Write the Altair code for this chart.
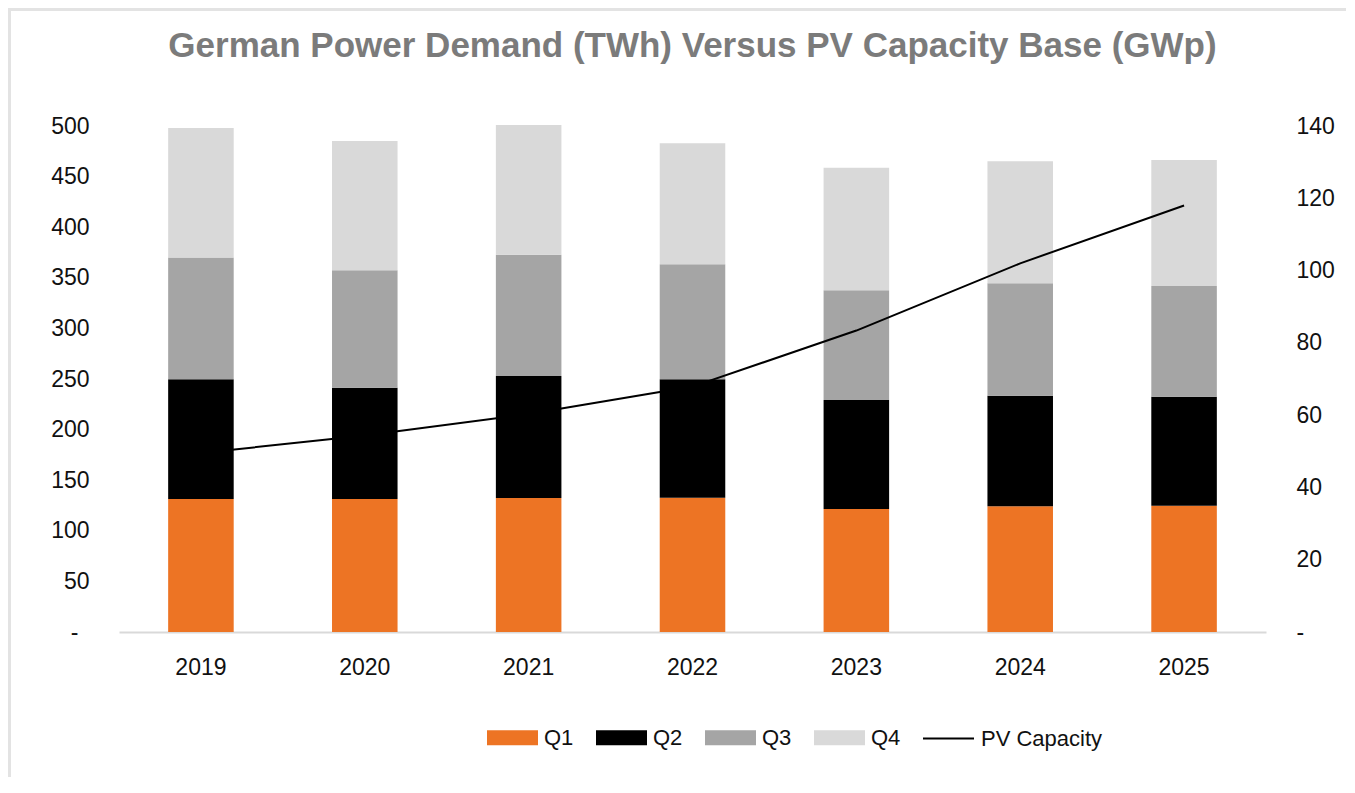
import altair as alt
import pandas as pd

years = ["2019", "2020", "2021", "2022", "2023", "2024", "2025"]
quarters = ["Q1", "Q2", "Q3", "Q4"]
q1 = [131.4, 131.4, 132.4, 132.7, 121.5, 124.2, 124.8]
q2 = [118.3, 110.0, 120.6, 117.1, 107.7, 109.3, 107.7]
q3 = [120.3, 116.0, 119.8, 113.5, 108.4, 111.1, 109.4]
q4 = [128.0, 127.8, 128.2, 119.6, 121.2, 120.5, 124.5]
pv_capacity = [49.5, 54.4, 60.3, 67.9, 83.4, 102.0, 118.0]
left_ticks = [0, 50, 100, 150, 200, 250, 300, 350, 400, 450, 500]
right_ticks = [0, 20, 40, 60, 80, 100, 120, 140]

quarter_colors = ["#ED7424", "#000000", "#A5A5A5", "#D9D9D9"]

rows = []
for qi, (qname, vals) in enumerate(zip(quarters, [q1, q2, q3, q4])):
    for y, v in zip(years, vals):
        rows.append({"year": y, "quarter": qname, "qidx": qi, "value": v})
df_bars = pd.DataFrame(rows)
df_line = pd.DataFrame({"year": years, "pv": pv_capacity, "series": ["PV Capacity"] * len(years)})

FONT = "Liberation Sans"
LABEL_COLOR = "#111111"

x_axis = alt.Axis(
    title=None, labelAngle=0, ticks=False, labelPadding=24,
    labelFontSize=23, labelFont=FONT, labelColor=LABEL_COLOR,
    domain=True, domainColor="#D9D9D9", domainWidth=2, grid=False,
)

bars = alt.Chart(df_bars).mark_bar().encode(
    x=alt.X(
        "year:N",
        sort=years,
        scale=alt.Scale(paddingInner=0.6, paddingOuter=0.3),
        axis=x_axis,
    ),
    y=alt.Y(
        "value:Q",
        stack="zero",
        scale=alt.Scale(domain=[0, 500], nice=False),
        axis=alt.Axis(
            title=None, values=left_ticks, grid=False, domain=False, ticks=False,
            labelPadding={"condition": {"test": "datum.value == 0", "value": 41}, "value": 30},
            labelFontSize=23, labelFont=FONT, labelColor=LABEL_COLOR,
            labelExpr="datum.value == 0 ? '-' : datum.label",
        ),
    ),
    fill=alt.Fill(
        "quarter:N",
        scale=alt.Scale(domain=quarters, range=quarter_colors),
        legend=alt.Legend(
            title=None, orient="none", legendX=368, legendY=586, direction="horizontal",
            symbolType="M-1,-0.29L1,-0.29L1,0.29L-1,0.29Z", symbolSize=2601,
            symbolStrokeWidth=0, labelFontSize=22, labelFont=FONT, labelColor=LABEL_COLOR,
            labelOffset=6, columnPadding=22, padding=0,
        ),
    ),
    order=alt.Order("qidx:Q", sort="ascending"),
)

line = alt.Chart(df_line).mark_line(strokeWidth=2).encode(
    x=alt.X("year:N", sort=years, axis=x_axis),
    y=alt.Y(
        "pv:Q",
        scale=alt.Scale(domain=[0, 140], nice=False),
        axis=alt.Axis(
            orient="right", title=None, values=right_ticks, grid=False, domain=False,
            ticks=False, labelPadding=30, labelFontSize=23, labelFont=FONT,
            labelColor=LABEL_COLOR,
            labelExpr="datum.value == 0 ? '-' : datum.label",
        ),
    ),
    stroke=alt.Stroke(
        "series:N",
        scale=alt.Scale(domain=["PV Capacity"], range=["#000000"]),
        legend=alt.Legend(
            title=None, orient="none", legendX=803, legendY=586, direction="horizontal",
            symbolType="stroke", symbolSize=2601, symbolStrokeWidth=2,
            labelFontSize=22, labelFont=FONT, labelColor=LABEL_COLOR,
            labelOffset=6, padding=0,
        ),
    ),
)

frame_left = alt.Chart(df_line).mark_rule(color="#E3E3E3", strokeWidth=3).encode(
    x=alt.value(-109.5), y=alt.value(-118), y2=alt.value(660)
)
frame_top = alt.Chart(df_line).mark_rule(color="#E3E3E3", strokeWidth=3).encode(
    x=alt.value(-111), x2=alt.value(1240), y=alt.value(-116.5)
)

chart = alt.layer(bars, line, frame_left, frame_top).resolve_scale(
    y="independent", fill="independent", stroke="independent"
).properties(
    width=1147,
    height=506,
    autosize=alt.AutoSizeParams(type="none"),
    padding={"left": 111, "top": 118, "right": 80, "bottom": 145},
    title=alt.TitleParams(
        "German Power Demand (TWh) Versus PV Capacity Base (GWp)",
        anchor="middle", fontSize=35, font=FONT, fontWeight="bold",
        color="#7B7B7B", offset=-57,
    ),
).configure_view(stroke=None)

chart.save("out.html", embed_options={"renderer": "svg", "actions": False})
